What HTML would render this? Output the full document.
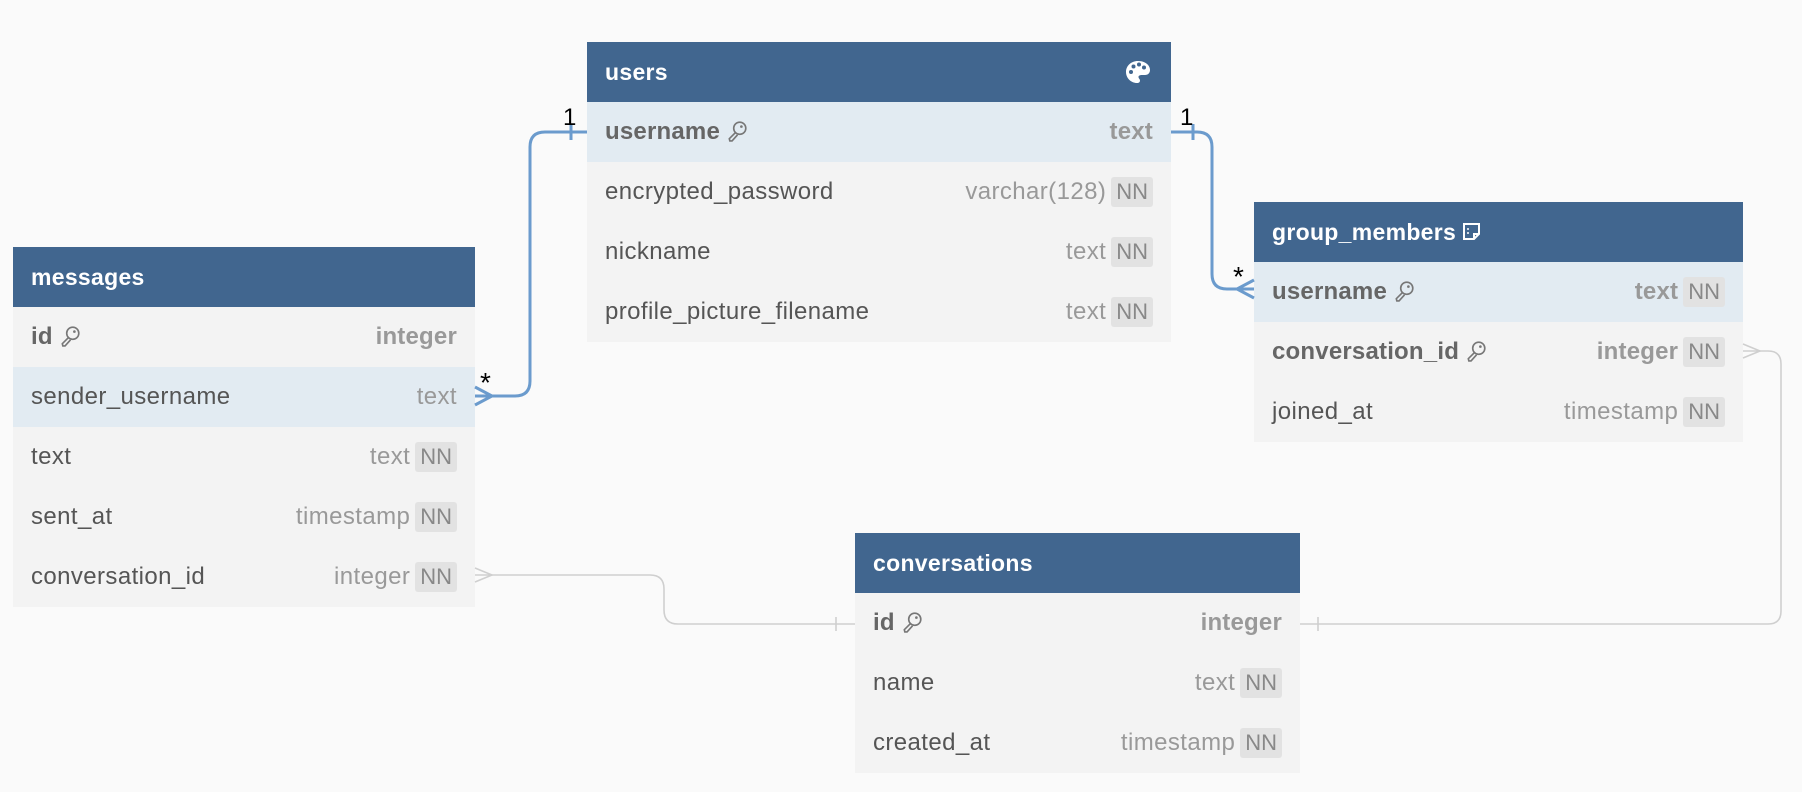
<!DOCTYPE html>
<html><head><meta charset="utf-8"><style>
body{margin:0;width:1802px;height:792px;background:#fafafa;position:relative;overflow:hidden;font-family:"Liberation Sans",sans-serif}
.t{position:absolute;background:#f3f3f3}
.h{height:60px;background:#41668f;color:#fff;font-weight:bold;font-size:23px;letter-spacing:0.3px;line-height:60px;padding-left:18px;box-sizing:border-box;position:relative}
.r{height:60px;position:relative;font-size:24px;letter-spacing:0.4px;color:#555;line-height:60px;padding-left:18px;box-sizing:border-box}
.r.hl{background:#e2ebf2}
.r.b{font-weight:bold;color:#666;letter-spacing:0.2px}
.ty{position:absolute;right:18px;top:0;color:#999;display:flex;align-items:center;height:60px;gap:5px}
.b .ty{font-weight:bold}
.nn{background:#e2e2e2;color:#888;font-weight:normal;font-size:22px;padding:0 5px;height:30px;line-height:30px;border-radius:3px;letter-spacing:0}
.k{display:inline-block;vertical-align:middle;margin-left:6px;margin-top:-4px}
</style></head><body>
<svg width="0" height="0" style="position:absolute"><defs>
<symbol id="key" viewBox="0 0 20 20"><circle cx="12.5" cy="7.5" r="5.5" fill="none" stroke="#777" stroke-width="1.5"/><path d="M8.5 11.5 L3 17 L3.5 19 L5.5 19 L10.5 13.5" fill="none" stroke="#777" stroke-width="1.5"/><circle cx="14" cy="6" r="1.2" fill="#777"/></symbol>
</defs></svg>

<div class="t" style="left:587px;top:42px;width:584px">
<div class="h">users
<svg style="position:absolute;right:20px;top:18px" width="26" height="24" viewBox="0 0 26 24"><path d="M13 1C6 1 1 6 1 12c0 6 5 11 11 11 2 0 3-1 3-2.5 0-1.5-1.5-2-1.5-3.5S15 15 17 15h3c3 0 5-2 5-5C25 5 20 1 13 1z" fill="#fff"/><circle cx="6" cy="12" r="2" fill="#41668f"/><circle cx="8.5" cy="6.5" r="2" fill="#41668f"/><circle cx="14" cy="4.5" r="2" fill="#41668f"/><circle cx="19" cy="7.5" r="2" fill="#41668f"/></svg></div>
<div class="r hl b">username<svg class="k" width="22" height="22"><use href="#key"/></svg><div class="ty">text</div></div>
<div class="r">encrypted_password<div class="ty">varchar(128)<span class="nn">NN</span></div></div>
<div class="r">nickname<div class="ty">text<span class="nn">NN</span></div></div>
<div class="r">profile_picture_filename<div class="ty">text<span class="nn">NN</span></div></div>
</div>

<div class="t" style="left:13px;top:247px;width:462px">
<div class="h">messages</div>
<div class="r b">id<svg class="k" width="22" height="22"><use href="#key"/></svg><div class="ty">integer</div></div>
<div class="r hl">sender_username<div class="ty">text</div></div>
<div class="r">text<div class="ty">text<span class="nn">NN</span></div></div>
<div class="r">sent_at<div class="ty">timestamp<span class="nn">NN</span></div></div>
<div class="r">conversation_id<div class="ty">integer<span class="nn">NN</span></div></div>
</div>

<div class="t" style="left:1254px;top:202px;width:489px">
<div class="h">group_members<svg style="display:inline-block;vertical-align:middle;margin-left:6px;margin-top:-4px" width="19" height="19" viewBox="0 0 19 19"><path d="M2 2h15v10l-5 5H2z" fill="none" stroke="#fff" stroke-width="2"/><path d="M17 12h-5v5" fill="none" stroke="#fff" stroke-width="2"/><circle cx="6" cy="7" r="1" fill="#fff"/><circle cx="6" cy="11" r="1" fill="#fff"/></svg></div>
<div class="r hl b">username<svg class="k" width="22" height="22"><use href="#key"/></svg><div class="ty">text<span class="nn">NN</span></div></div>
<div class="r b">conversation_id<svg class="k" width="22" height="22"><use href="#key"/></svg><div class="ty">integer<span class="nn">NN</span></div></div>
<div class="r">joined_at<div class="ty">timestamp<span class="nn">NN</span></div></div>
</div>

<div class="t" style="left:855px;top:533px;width:445px">
<div class="h">conversations</div>
<div class="r b">id<svg class="k" width="22" height="22"><use href="#key"/></svg><div class="ty">integer</div></div>
<div class="r">name<div class="ty">text<span class="nn">NN</span></div></div>
<div class="r">created_at<div class="ty">timestamp<span class="nn">NN</span></div></div>
</div>

<svg style="position:absolute;left:0;top:0" width="1802" height="792">
<g fill="none" stroke="#6b9bcd" stroke-width="3">
<path d="M587 132 H545 Q530 132 530 147 V381 Q530 396 515 396 H475"/>
<path d="M571 124 V140"/>
<path d="M475 387 L492 396 L475 405"/>
<path d="M1171 132 H1197 Q1212 132 1212 147 V274 Q1212 289 1227 289 H1254"/>
<path d="M1193 124 V140"/>
<path d="M1254 280 L1237 289 L1254 298"/>
</g>
<g fill="none" stroke="#cfcfcf" stroke-width="1.6">
<path d="M475 575 H650 Q664 575 664 589 V610 Q664 624 678 624 H855"/>
<path d="M475 568 L492 575 L475 582"/>
<path d="M836 617 V631"/>
<path d="M1300 624 H1768 Q1781 624 1781 611 V364 Q1781 351 1768 351 H1743"/>
<path d="M1743 344 L1760 351 L1743 358"/>
<path d="M1318 617 V631"/>
</g>
<g font-family="Liberation Sans,sans-serif" font-size="24" fill="#000">
<text x="563" y="125">1</text>
<text x="1180" y="125">1</text>
<text x="480" y="392" font-size="28">*</text>
<text x="1233" y="286" font-size="28">*</text>
</g>
</svg>
</body></html>
